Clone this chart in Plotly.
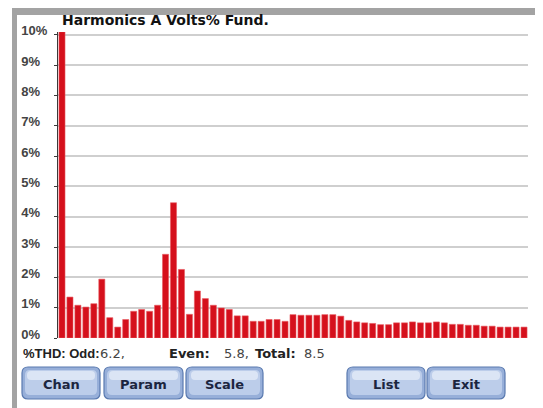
import plotly.graph_objects as go

# ---- data ----
harmonics = list(range(1, 60))
volts_pct = [10.1, 1.35, 1.08, 1.02, 1.13, 1.94, 0.67, 0.36, 0.61, 0.88,
             0.94, 0.88, 1.08, 2.76, 4.46, 2.26, 0.78, 1.55, 1.30, 1.08,
             0.99, 0.94, 0.73, 0.73, 0.55, 0.55, 0.61, 0.61, 0.55, 0.77,
             0.75, 0.75, 0.75, 0.77, 0.77, 0.72, 0.58, 0.53, 0.50, 0.48,
             0.44, 0.44, 0.50, 0.50, 0.53, 0.50, 0.50, 0.53, 0.50, 0.45,
             0.45, 0.42, 0.42, 0.39, 0.39, 0.36, 0.36, 0.36, 0.36]
tick_vals = [0, 1, 2, 3, 4, 5, 6, 7, 8, 9, 10]
tick_text = ["0%\u2007", "1%\u2007", "2%\u2007", "3%\u2007", "4%\u2007", "5%\u2007",
             "6%\u2007", "7%\u2007", "8%\u2007", "9%\u2007", "10%"]
title_text = "Harmonics A Volts% Fund."
thd_labels = ["%THD: Odd:", "Even:", "Total:"]
thd_values = ["6.2,", "5.8,", "8.5"]
buttons = [("Chan", 22, 100), ("Param", 104, 183), ("Scale", 186, 263),
           ("List", 347, 425), ("Exit", 427, 505)]

# ---- geometry (screen pixels; page body has an 8px margin) ----
OFF = 8
W_FIG, H_FIG = 543 - OFF, 408 - OFF
ML, MR, MT, MB = 58 - OFF, 15, 32 - OFF, 70
PW = W_FIG - ML - MR
PH = H_FIG - MT - MB

def px(x):
    return (x - OFF - ML) / PW

def py(y):
    return (H_FIG - MB - (y - OFF)) / PH

fig = go.Figure()
fig.add_trace(go.Bar(
    x=harmonics, y=volts_pct,
    marker=dict(color="#d5101c", line=dict(color="#e8595f", width=0.6)),
    width=0.76, showlegend=False, hoverinfo="x+y",
))

shapes = []
# gray device frame
shapes.append(dict(type="rect", xref="paper", yref="paper", layer="below",
                   x0=px(12), x1=px(545), y0=py(6), y1=py(410),
                   fillcolor="#a3a3a3", line=dict(width=0)))
shapes.append(dict(type="rect", xref="paper", yref="paper", layer="below",
                   x0=px(17), x1=px(537), y0=py(15), y1=py(410),
                   fillcolor="#ffffff", line=dict(width=0)))

def rrect(x0, y0, x1, y1, r):
    return (f"M {px(x0 + r)} {py(y0)} L {px(x1 - r)} {py(y0)} "
            f"Q {px(x1)} {py(y0)} {px(x1)} {py(y0 + r)} "
            f"L {px(x1)} {py(y1 - r)} Q {px(x1)} {py(y1)} {px(x1 - r)} {py(y1)} "
            f"L {px(x0 + r)} {py(y1)} Q {px(x0)} {py(y1)} {px(x0)} {py(y1 - r)} "
            f"L {px(x0)} {py(y0 + r)} Q {px(x0)} {py(y0)} {px(x0 + r)} {py(y0)} Z")

annotations = []
BY0, BY1 = 367, 399
for label, bx0, bx1 in buttons:
    shapes.append(dict(type="path", xref="paper", yref="paper", path=rrect(bx0, BY0, bx1, BY1, 6),
                       fillcolor="#97afd9", line=dict(color="#5a7ab0", width=1.2)))
    shapes.append(dict(type="path", xref="paper", yref="paper",
                       path=rrect(bx0 + 3, BY0 + 3, bx1 - 3, BY1 - 4, 5),
                       fillcolor="#bccdea", line=dict(width=0)))
    shapes.append(dict(type="path", xref="paper", yref="paper",
                       path=rrect(bx0 + 5, BY0 + 4, bx1 - 5, BY0 + 13, 4),
                       fillcolor="#dbe5f5", line=dict(width=0)))
    annotations.append(dict(xref="paper", yref="paper", x=px((bx0 + bx1) / 2), y=py((BY0 + BY1) / 2 + 1),
                            text=f"<b>{label}</b>", showarrow=False, xanchor="center", yanchor="middle",
                            font=dict(family="DejaVu Sans", size=13, color="#1b2540")))

annotations.append(dict(xref="paper", yref="paper", x=px(60), y=py(20), text=f"<b>{title_text}</b>",
                        showarrow=False, xanchor="left", yanchor="middle",
                        font=dict(family="DejaVu Sans", size=14, color="#111111")))

thd_parts = [(f"<b>{thd_labels[0]}</b>", 21, "#222222", "Liberation Sans"),
             (thd_values[0], 98, "#444444", "DejaVu Sans"),
             (f"<b>{thd_labels[1]}</b>", 167, "#222222", "DejaVu Sans"),
             (thd_values[1], 222, "#444444", "DejaVu Sans"),
             (f"<b>{thd_labels[2]}</b>", 253, "#222222", "DejaVu Sans"),
             (thd_values[2], 302, "#444444", "DejaVu Sans")]
for txt, tx, col, fam in thd_parts:
    annotations.append(dict(xref="paper", yref="paper", x=px(tx), y=py(353), text=txt,
                            showarrow=False, xanchor="left", yanchor="middle",
                            font=dict(family=fam, size=13, color=col)))

fig.update_layout(
    width=W_FIG, height=H_FIG,
    margin=dict(l=ML, r=MR, t=MT, b=MB, pad=0),
    paper_bgcolor="#ffffff", plot_bgcolor="#ffffff",
    bargap=0.2,
    shapes=shapes, annotations=annotations,
    xaxis=dict(range=[0.5, 59.5], showgrid=False, showticklabels=False, zeroline=False,
               showline=False, ticks="", fixedrange=True),
    yaxis=dict(range=[0, 10.09], tickvals=tick_vals, ticktext=tick_text,
               showgrid=True, gridcolor="#cfcfcf", gridwidth=1.6,
               zeroline=False, showline=True, linecolor="#3a3a3a", linewidth=1,
               ticks="outside", ticklen=3, tickcolor="#3a3a3a",
               ticklabelstandoff=4, ticklabelshift=-4,
               tickfont=dict(family="Liberation Sans", size=13, color="#444444", weight="bold"),
               fixedrange=True),
)

fig.write_html("out.html")
